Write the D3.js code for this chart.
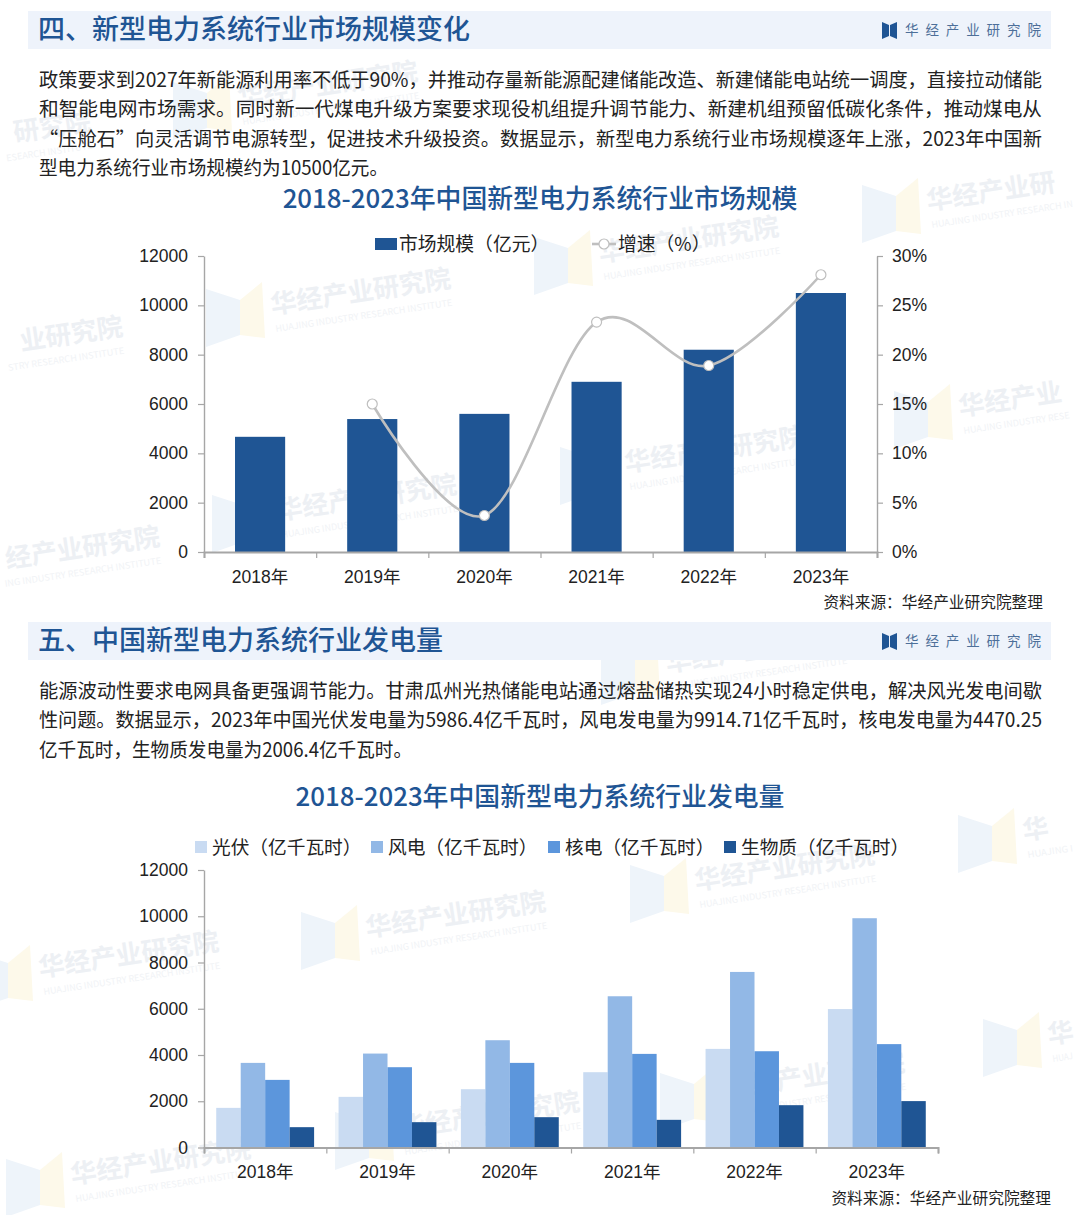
<!DOCTYPE html>
<html>
<head>
<meta charset="utf-8">
<script src="https://cdn.jsdelivr.net/npm/d3@7"></script>
<style>
  html, body { margin: 0; padding: 0; background: #fff; }
  svg { display: block; }
  text { font-family: "Noto Sans CJK SC", "Liberation Sans", sans-serif; }
</style>
</head>
<body>
<script>
const years = ["2018年", "2019年", "2020年", "2021年", "2022年", "2023年"];

// chart 1
const marketSize = [4670, 5390, 5600, 6900, 8200, 10500];
const growth = [null, 15.0, 3.7, 23.3, 18.9, 28.1];
const sizeTicks = [0, 2000, 4000, 6000, 8000, 10000, 12000];
const growthTicks = [0, 5, 10, 15, 20, 25, 30];

// chart 2
const solar = [1714, 2190, 2521, 3256, 4264, 5986.4];
const wind = [3659, 4062, 4639, 6540, 7592, 9914.71];
const nuclear = [2924, 3472, 3659, 4048, 4163, 4470.25];
const biomass = [879, 1095, 1311, 1196, 1830, 2006.4];
const powerSeries = ["光伏\uFF08亿千瓦时\uFF09", "风电\uFF08亿千瓦时\uFF09", "核电\uFF08亿千瓦时\uFF09", "生物质\uFF08亿千瓦时\uFF09"];
const powerColors = ["#c9dbf2", "#92b8e6", "#5c96dc", "#1f5594"];

const para1 = [
  "政策要求到2027年新能源利用率不低于90%\uFF0C并推动存量新能源配建储能改造、新建储能电站统一调度\uFF0C直接拉动储能",
  "和智能电网市场需求。同时新一代煤电升级方案要求现役机组提升调节能力、新建机组预留低碳化条件\uFF0C推动煤电从",
  "\u201C压舱石\u201D向灵活调节电源转型\uFF0C促进技术升级投资。数据显示\uFF0C新型电力系统行业市场规模逐年上涨\uFF0C2023年中国新",
  "型电力系统行业市场规模约为10500亿元。"
];
const para2 = [
  "能源波动性要求电网具备更强调节能力。甘肃瓜州光热储能电站通过熔盐储热实现24小时稳定供电\uFF0C解决风光发电间歇",
  "性问题。数据显示\uFF0C2023年中国光伏发电量为5986.4亿千瓦时\uFF0C风电发电量为9914.71亿千瓦时\uFF0C核电发电量为4470.25",
  "亿千瓦时\uFF0C生物质发电量为2006.4亿千瓦时。"
];

const blue = "#1f5594";
const gray = "#a6a6a6";
const textColor = "#222";
const latinFont = '"Liberation Sans", "Noto Sans CJK SC", sans-serif';

const svg = d3.select("body").append("svg")
  .attr("width", 1080)
  .attr("height", 1215)
  .style("background", "#fff");

// watermarks, behind everything
const marks = [
  [206, 282], [173, 75], [862, 178], [534, 230], [-122, 330], [-154, 125],
  [212, 488], [560, 440], [894, 384], [-85, 540], [601, 640],
  [301, 905], [630, 858], [958, 808], [-26, 945], [983, 1012],
  [660, 1066], [335, 1105], [6, 1152]
];

// only the glyphs that fit inside the page are written out
function visiblePart(str, originX, advance) {
  const chars = Array.from(str);
  const shown = chars.map((c, i) => i).filter((i) => {
    const left = originX + i * advance;
    return left >= 5 && left + advance <= 1075;
  });
  if (!shown.length) return { text: "", offset: 0 };
  return {
    text: chars.slice(shown[0], shown[shown.length - 1] + 1).join(""),
    offset: shown[0] * advance,
    width: shown.length * advance
  };
}

const mark = svg.append("g").selectAll("g")
  .data(marks)
  .enter()
  .append("g")
  .attr("transform", (d) => `translate(${d[0]},${d[1]})`);

mark.append("polygon").attr("points", "0,7 34,18 34,53 0,65").attr("fill", "#eef4fa");
mark.append("polygon").attr("points", "34,18 56,0 59,56 34,53").attr("fill", "#fdf9ea");

mark.each(function (d) {
  const g = d3.select(this);
  const cn = visiblePart("华经产业研究院", d[0] + 66, 26);
  const en = visiblePart("HUAJING INDUSTRY RESEARCH INSTITUTE", d[0] + 70, 5.1);
  if (cn.text) {
    g.append("text")
      .attr("transform", "translate(66,32) rotate(-8.5)")
      .attr("x", cn.offset)
      .attr("font-size", 26)
      .attr("font-weight", 700)
      .attr("fill", "#edf0f4")
      .text(cn.text);
  }
  if (en.text) {
    g.append("text")
      .attr("transform", "translate(70,50) rotate(-8.5)")
      .attr("x", en.offset)
      .attr("font-size", 9)
      .attr("fill", "#f1f3f6")
      .attr("textLength", en.width)
      .attr("lengthAdjust", "spacingAndGlyphs")
      .text(en.text);
  }
});

function sectionHeader(top, title) {
  svg.append("rect")
    .attr("x", 28).attr("y", top)
    .attr("width", 1023).attr("height", 38)
    .attr("fill", "#eef3fb");

  svg.append("text")
    .attr("x", 38).attr("y", top + 28)
    .attr("font-size", 27)
    .attr("font-weight", 500)
    .attr("fill", blue)
    .text(title);

  // small logo on the right
  svg.append("polygon")
    .attr("points", `882,${top + 11} 889,${top + 14} 889,${top + 25} 882,${top + 28}`)
    .attr("fill", blue);
  svg.append("polygon")
    .attr("points", `890,${top + 14} 897,${top + 11} 897,${top + 28} 890,${top + 25}`)
    .attr("fill", blue);

  svg.append("text")
    .attr("x", 905).attr("y", top + 24)
    .attr("font-size", 13.5)
    .attr("letter-spacing", "6.9px")
    .attr("fill", "#4d6f99")
    .text("华经产业研究院");
}

function paragraph(lines, firstY, lastWidth) {
  svg.append("g").selectAll("text")
    .data(lines)
    .enter()
    .append("text")
    .attr("x", 39)
    .attr("y", (d, i) => firstY + i * 29.4)
    .attr("font-size", 19.5)
    .attr("fill", textColor)
    .attr("textLength", (d, i) => (i === lines.length - 1 ? lastWidth : 1003))
    .attr("lengthAdjust", "spacingAndGlyphs")
    .text((d) => d);
}

function chartTitle(y, t) {
  svg.append("text")
    .attr("x", 540).attr("y", y)
    .attr("text-anchor", "middle")
    .attr("font-size", 25.85)
    .attr("font-weight", 500)
    .attr("fill", blue)
    .text(t);
}

function source(xRight, y) {
  svg.append("text")
    .attr("x", xRight).attr("y", y)
    .attr("text-anchor", "end")
    .attr("font-size", 15.7)
    .attr("fill", textColor)
    .text("资料来源\uFF1A华经产业研究院整理");
}

function styleAxis(g, fontSize) {
  g.selectAll("path.domain").attr("stroke", gray).attr("stroke-width", 1.4);
  g.selectAll(".tick line").attr("stroke", gray).attr("stroke-width", 1.2);
  g.selectAll("text")
    .attr("font-size", fontSize)
    .attr("fill", textColor)
    .style("font-family", latinFont);
}

sectionHeader(11, "四、新型电力系统行业市场规模变化");
paragraph(para1, 87, 349);
chartTitle(208, "2018-2023年中国新型电力系统行业市场规模");

sectionHeader(622, "五、中国新型电力系统行业发电量");
paragraph(para2, 698, 373);
chartTitle(806, "2018-2023年中国新型电力系统行业发电量");

// ---- chart 1 ----
const x1 = d3.scaleBand().domain(years).range([204, 877]).paddingInner(0.553).paddingOuter(0.2765);
const edges1 = d3.scaleLinear().domain([0, 6]).range([204, 877]);
const y1 = d3.scaleLinear().domain([0, 12000]).range([552, 256]);
const y1r = d3.scaleLinear().domain([0, 30]).range([552, 256]);

svg.append("g")
  .attr("transform", "translate(204,0)")
  .call(d3.axisLeft(y1).tickValues(sizeTicks).tickSizeInner(6).tickSizeOuter(0).tickPadding(10).tickFormat(d3.format("d")))
  .call(styleAxis, 17.5);

svg.append("g")
  .attr("transform", "translate(877,0)")
  .call(d3.axisRight(y1r).tickValues(growthTicks).tickSizeInner(6).tickSizeOuter(0).tickPadding(9).tickFormat((d) => d + "%"))
  .call(styleAxis, 17.5);

svg.append("g")
  .selectAll("rect")
  .data(marketSize)
  .enter()
  .append("rect")
  .attr("x", (d, i) => x1(years[i]))
  .attr("y", (d) => y1(d))
  .attr("width", x1.bandwidth())
  .attr("height", (d) => y1(0) - y1(d))
  .attr("fill", blue);

svg.append("g")
  .attr("transform", "translate(0,552)")
  .call(d3.axisBottom(edges1).tickValues(d3.range(7)).tickSize(6).tickFormat(""))
  .call(styleAxis, 17.5)
  .select("path.domain").attr("stroke-width", 2);

svg.append("g")
  .attr("transform", "translate(0,552)")
  .call(d3.axisBottom(x1).tickSize(0).tickPadding(19))
  .call(styleAxis, 17.5)
  .select("path.domain").remove();

const growthLine = d3.line()
  .defined((d) => d !== null)
  .x((d, i) => x1(years[i]) + x1.bandwidth() / 2)
  .y((d) => y1r(d))
  .curve(d3.curveCardinal.tension(0));

svg.append("path")
  .datum(growth)
  .attr("d", growthLine)
  .attr("fill", "none")
  .attr("stroke", "#bfbfbf")
  .attr("stroke-width", 2.6);

svg.append("g")
  .selectAll("circle")
  .data(growth)
  .enter()
  .filter((d) => d !== null)
  .append("circle")
  .attr("cx", (d) => x1(years[growth.indexOf(d)]) + x1.bandwidth() / 2)
  .attr("cy", (d) => y1r(d))
  .attr("r", 5)
  .attr("fill", "#fff")
  .attr("stroke", "#bfbfbf")
  .attr("stroke-width", 1.2);

// legend 1
svg.append("rect").attr("x", 375).attr("y", 238).attr("width", 22).attr("height", 12).attr("fill", blue);
svg.append("text").attr("x", 399).attr("y", 250.5).attr("font-size", 18.8).attr("fill", textColor).text("市场规模\uFF08亿元\uFF09");
svg.append("line").attr("x1", 592).attr("x2", 616).attr("y1", 244).attr("y2", 244).attr("stroke", "#bfbfbf").attr("stroke-width", 2.6);
svg.append("circle").attr("cx", 604).attr("cy", 244).attr("r", 5).attr("fill", "#fff").attr("stroke", "#bfbfbf").attr("stroke-width", 1.2);
svg.append("text").attr("x", 618).attr("y", 250.5).attr("font-size", 18.8).attr("fill", textColor).text("增速\uFF08%\uFF09");

source(1043, 608);

// ---- chart 2 ----
const powerValues = [solar, wind, nuclear, biomass];
const x2 = d3.scaleBand().domain(years).range([204, 938]).paddingInner(0.2).paddingOuter(0.1);
const x2in = d3.scaleBand().domain(d3.range(4)).range([0, x2.bandwidth()]);
const edges2 = d3.scaleLinear().domain([0, 6]).range([204, 938]);
const y2 = d3.scaleLinear().domain([0, 12000]).range([1147.5, 870]);

svg.append("g")
  .attr("transform", "translate(204,0)")
  .call(d3.axisLeft(y2).tickValues(sizeTicks).tickSizeInner(6).tickSizeOuter(0).tickPadding(10).tickFormat(d3.format("d")))
  .call(styleAxis, 17.5);

svg.append("g")
  .selectAll("g")
  .data(powerValues)
  .enter()
  .append("g")
  .attr("fill", (d, s) => powerColors[s])
  .each(function (vals, s) {
    d3.select(this)
      .selectAll("rect")
      .data(vals)
      .enter()
      .append("rect")
      .attr("x", (d, i) => x2(years[i]) + x2in(s))
      .attr("y", (d) => y2(d))
      .attr("width", x2in.bandwidth())
      .attr("height", (d) => y2(0) - y2(d));
  });

svg.append("g")
  .attr("transform", "translate(0,1147.5)")
  .call(d3.axisBottom(edges2).tickValues(d3.range(7)).tickSize(6).tickFormat(""))
  .call(styleAxis, 17.5)
  .select("path.domain").attr("stroke-width", 2);

svg.append("g")
  .attr("transform", "translate(0,1147.5)")
  .call(d3.axisBottom(x2).tickSize(0).tickPadding(18))
  .call(styleAxis, 17.5)
  .select("path.domain").remove();

// legend 2
const legendX = [195, 371, 548, 724];
powerSeries.forEach((name, i) => {
  svg.append("rect").attr("x", legendX[i]).attr("y", 841).attr("width", 12).attr("height", 12).attr("fill", powerColors[i]);
  svg.append("text").attr("x", legendX[i] + 17).attr("y", 853.5).attr("font-size", 18.7).attr("fill", textColor).text(name);
});

source(1051, 1204);
</script>
</body>
</html>
